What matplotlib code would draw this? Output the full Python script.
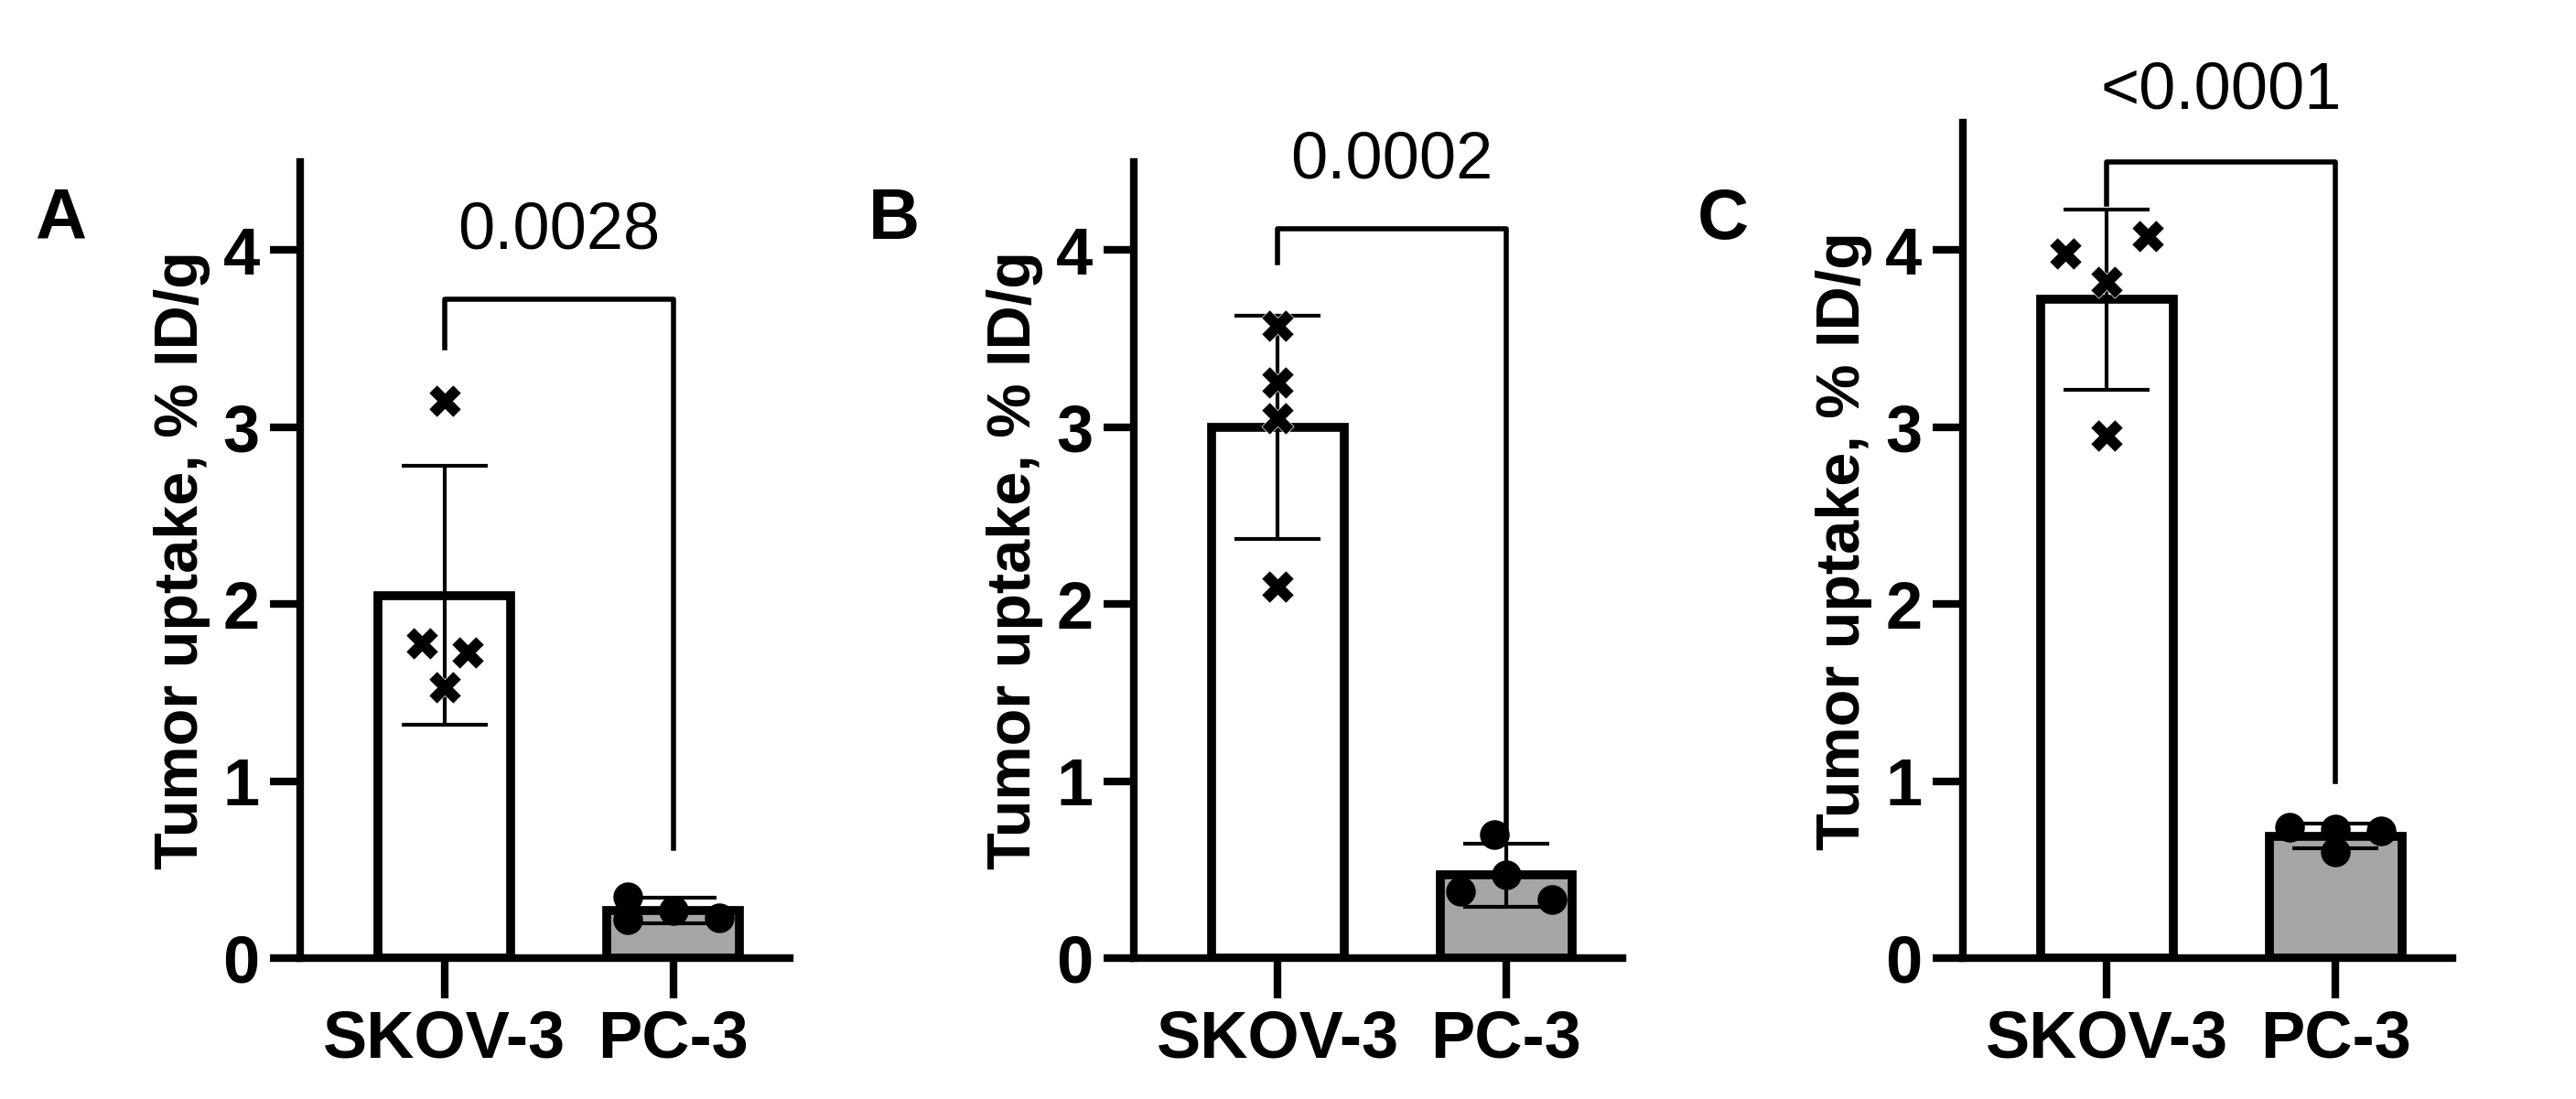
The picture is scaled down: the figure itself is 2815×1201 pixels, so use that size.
import matplotlib.pyplot as plt

plt.rcParams['font.family'] = ['Liberation Sans', 'DejaVu Sans']

groups = ['SKOV-3', 'PC-3']
panels = ['A', 'B', 'C']
means = [[2.05, 0.27], [3.0, 0.47], [3.72, 0.69]]
sds = [[0.73, 0.07], [0.63, 0.18], [0.51, 0.07]]
skov_pts = [[3.15, 1.78, 1.73, 1.53], [3.57, 3.25, 3.05, 2.10], [4.08, 3.98, 3.82, 2.95]]
pc_pts = [[0.35, 0.27, 0.23, 0.22], [0.70, 0.47, 0.38, 0.33], [0.74, 0.72, 0.73, 0.60]]
pvals = ['0.0028', '0.0002', '<0.0001']
# bracket: top, left leg end, right leg end, text y
brackets = [(3.72, 3.45, 0.62, 3.93), (4.12, 3.93, 0.72, 4.33), (4.5, 4.26, 1.0, 4.72)]
ymax = [4.5, 4.5, 4.72]
skov_dx = [[0, -0.1, 0.1, 0], [0, 0, 0, 0], [0.18, -0.18, 0, 0]]
pc_dx = [[-0.2, 0, 0.2, -0.2], [-0.05, 0, -0.2, 0.2], [-0.2, 0.2, 0, 0]]

lefts = [0.1166, 0.440, 0.762]
fig = plt.figure(figsize=(28.15, 12.01), dpi=100)
for i in range(3):
    ax = fig.add_axes([lefts[i], 0.128, 0.19, 0.725 * ymax[i] / 4.5])
    ax.bar([0, 1], means[i], width=0.58, color=['white', '#a6a6a6'],
           edgecolor='black', linewidth=7, zorder=2)
    ax.errorbar([0, 1], means[i], yerr=sds[i], fmt='none', ecolor='black',
                elinewidth=3, capsize=34, capthick=3, zorder=3)
    ax.scatter(skov_dx[i], skov_pts[i], marker='X', s=650,
               color='black', edgecolor='white', linewidth=0.5, zorder=4)
    ax.scatter([1 + d for d in pc_dx[i]], pc_pts[i], marker='o', s=500,
               color='black', zorder=4)
    top, l_end, r_end, ty = brackets[i]
    ax.plot([0, 0, 1, 1], [l_end, top, top, r_end], color='black', lw=4,
            clip_on=False, zorder=5)
    ax.text(0.5, ty, pvals[i], ha='center', va='bottom', fontsize=52,
            clip_on=False)
    ax.set_xlim(-0.63, 1.51)
    ax.set_ylim(0, ymax[i])
    ax.set_yticks([0, 1, 2, 3, 4])
    ax.set_xticks([0, 1])
    ax.set_xticklabels(groups)
    for lab in ax.get_xticklabels() + ax.get_yticklabels():
        lab.set_fontweight('bold')
        lab.set_fontsize(52)
    ax.tick_params(width=6, length=24, pad=8)
    ax.tick_params(axis='x', length=32)
    for s in ['top', 'right']:
        ax.spines[s].set_visible(False)
    for s in ['left', 'bottom']:
        ax.spines[s].set_linewidth(6)
    ax.set_ylabel('Tumor uptake, % ID/g', fontsize=48, fontweight='bold', labelpad=10)
    fig.text(lefts[i] - 0.103, 0.80, panels[i], fontsize=56, fontweight='bold',
             va='center')

fig.savefig('out.png', dpi=100)
